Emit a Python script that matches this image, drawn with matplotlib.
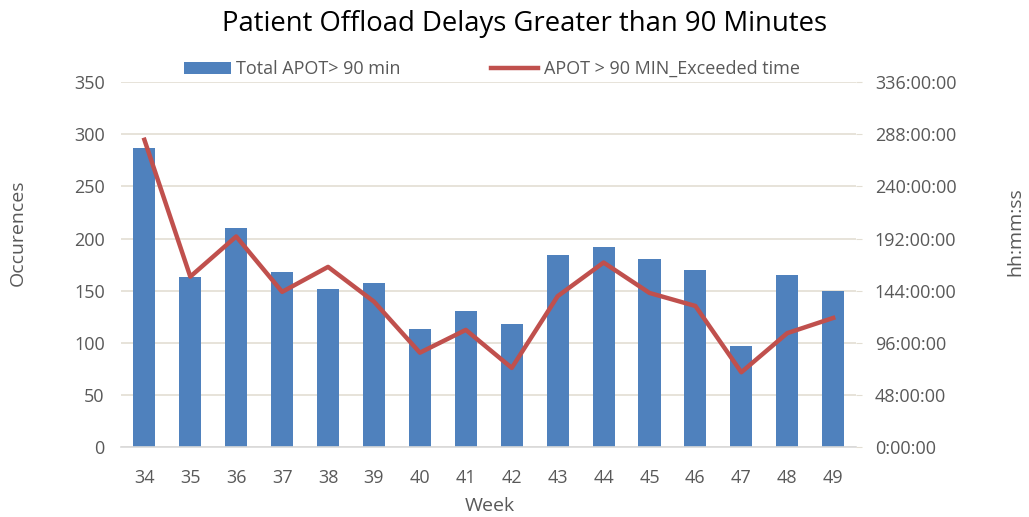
import matplotlib
matplotlib.use("Agg")
import matplotlib.pyplot as plt
from matplotlib.ticker import FuncFormatter, MultipleLocator

weeks = ["34", "35", "36", "37", "38", "39", "40", "41", "42", "43", "44", "45", "46", "47", "48", "49"]
total_apot = [287, 163, 210, 168, 152, 157, 113, 131, 118, 184, 192, 180, 170, 97, 165, 150]
# exceeded time in hours
exceeded_hours = [283, 157, 194, 143, 166, 134, 87, 108, 73, 139, 170, 142, 130, 69, 105, 119]

plt.rcParams['font.family'] = ['Open Sans', 'DejaVu Sans']
text_col = '#595959'
grid_col = '#e3ded3'

fig = plt.figure(figsize=(10.29, 5.17), dpi=100)
ax = fig.add_axes([0.118, 0.135, 0.714, 0.706])
x = list(range(len(weeks)))

bars = ax.bar(x, total_apot, width=0.48, color='#4F81BD', label='Total APOT> 90 min', zorder=2)
ax.set_ylim(0, 350)
ax.yaxis.set_major_locator(MultipleLocator(50))
ax.set_xlim(-0.5, len(weeks) - 0.5)
ax.set_xticks(x)
ax.set_xticklabels(weeks)
ax.grid(axis='y', color=grid_col, linewidth=1.2, zorder=0)
ax.set_axisbelow(True)
for s in ['top', 'left', 'right']:
    ax.spines[s].set_visible(False)
ax.spines['bottom'].set_color('#d9d9d9')
ax.spines['bottom'].set_linewidth(1.2)
ax.tick_params(axis='both', length=0, colors=text_col, labelsize=13)
ax.tick_params(axis='x', pad=16)
ax.tick_params(axis='y', pad=12)

ax2 = ax.twinx()
line, = ax2.plot(x, exceeded_hours, color='#C0504D', linewidth=3.2, label='APOT > 90 MIN_Exceeded time',
                 solid_joinstyle='round', zorder=3)
ax2.set_ylim(0, 336)
ax2.yaxis.set_major_locator(MultipleLocator(48))
ax2.yaxis.set_major_formatter(FuncFormatter(lambda v, p: '%d:00:00' % int(round(v))))
for s in ['top', 'left', 'right', 'bottom']:
    ax2.spines[s].set_visible(False)
ax2.tick_params(axis='y', length=4, color=grid_col, colors=text_col, labelsize=13, pad=9.5)
ax2.tick_params(axis='y', color=grid_col)

# axis titles placed in figure coordinates
fig.text(490 / 1029, 1 - 506 / 517, 'Week', ha='center', va='center', color=text_col, fontsize=14)
fig.text(18 / 1029, 1 - 233 / 517, 'Occurences', ha='center', va='center', rotation=90,
         color=text_col, fontsize=14)
fig.text(1015 / 1029, 1 - 232 / 517, 'hh:mm:ss', ha='center', va='center', rotation=90,
         color=text_col, fontsize=14)

fig.legend(handles=[bars, line], loc='center', bbox_to_anchor=(0.478, 0.866), ncol=2, frameon=False,
           fontsize=13, labelcolor=text_col, handlelength=2.6, columnspacing=5, handletextpad=0.3)
fig.suptitle('Patient Offload Delays Greater than 90 Minutes', x=0.51, y=0.98, fontsize=19.8, color='black')

fig.savefig('out.png', dpi=100)
